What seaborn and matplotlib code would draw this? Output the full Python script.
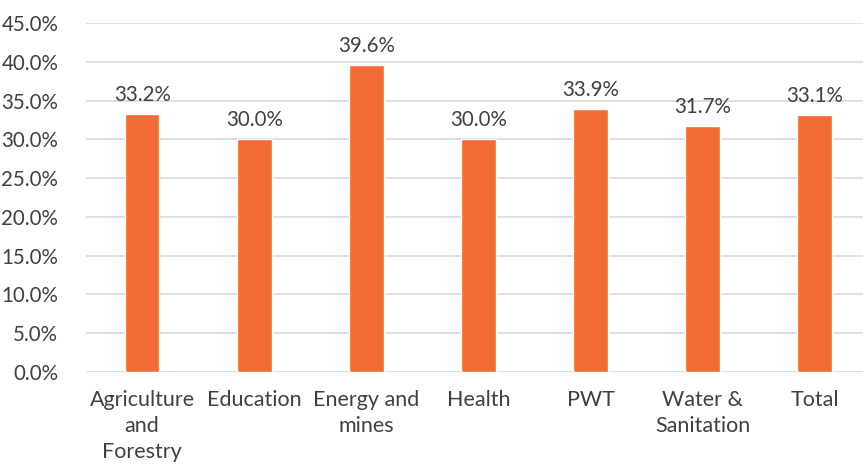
import matplotlib
matplotlib.use("Agg")
import matplotlib.pyplot as plt
import seaborn as sns
import pandas as pd

sectors = ["Agriculture\nand\nForestry", "Education", "Energy and\nmines", "Health",
           "PWT", "Water &\nSanitation", "Total"]
shares = [33.2, 30.0, 39.6, 30.0, 33.9, 31.7, 33.1]
y_ticks = [0, 5, 10, 15, 20, 25, 30, 35, 40, 45]

sns.set_theme(style="white")
plt.rcParams["font.family"] = ["Lato", "DejaVu Sans"]

df = pd.DataFrame({"sector": sectors, "share": shares})

fig = plt.figure(figsize=(8.63, 4.66), dpi=100)
ax = fig.add_axes([0.0997, 0.2017, 0.9003, 0.749])

sns.barplot(data=df, x="sector", y="share", color="#F26A35", width=0.31,
            saturation=1, ax=ax, zorder=3)

ax.set_ylim(0, 45)
ax.set_xlim(-0.5, 6.43)
ax.set_yticks(y_ticks)
ax.set_yticklabels([f"{t:.1f}%" for t in y_ticks])
ax.yaxis.grid(True, color="#D9D9D9", linewidth=1.2, zorder=0)
ax.set_axisbelow(True)
for s in ax.spines.values():
    s.set_visible(False)
ax.tick_params(axis="both", length=0, labelsize=14.8, colors="#404040")
ax.tick_params(axis="y", pad=20)
ax.tick_params(axis="x", pad=13)
for lab in ax.get_xticklabels():
    lab.set_fontsize(15.5)
    lab.set_linespacing(1.38)
ax.set_xlabel("")
ax.set_ylabel("")

for i, v in enumerate(shares):
    ax.text(i, v + 1.2, f"{v:.1f}%", ha="center", va="bottom",
            fontsize=14.8, color="#404040")

fig.savefig("out.png", dpi=100)
